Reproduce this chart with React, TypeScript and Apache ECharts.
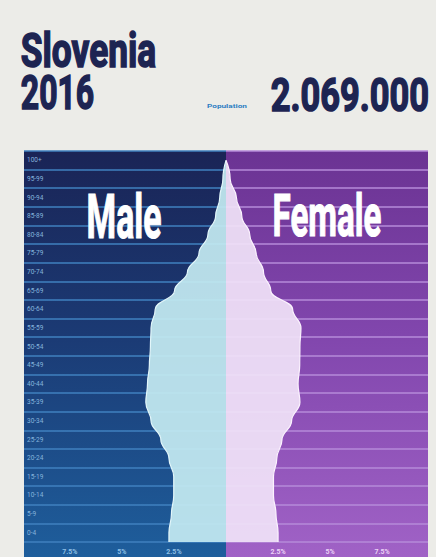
import React, { useEffect, useRef } from 'react';
import * as echarts from 'echarts';

// Age groups, youngest first (category axis draws first item at the bottom)
const ages = ['0-4', '5-9', '10-14', '15-19', '20-24', '25-29', '30-34', '35-39', '40-44', '45-49', '50-54', '55-59', '60-64', '65-69', '70-74', '75-79', '80-84', '85-89', '90-94', '95-99', '100+'];
// Share of total population (%)
const maleShare = [2.74, 2.62, 2.51, 2.51, 2.74, 3.13, 3.6, 3.85, 3.77, 3.68, 3.63, 3.6, 3.4, 2.47, 1.85, 1.3, 0.87, 0.5, 0.3, 0.15, 0];
const femaleShare = [2.5, 2.4, 2.28, 2.28, 2.44, 2.69, 3.15, 3.55, 3.46, 3.54, 3.55, 3.6, 3.2, 2.15, 1.8, 1.45, 1.14, 0.76, 0.5, 0.2, 0];
const xTickValues = [-7.5, -5, -2.5, 2.5, 5, 7.5];

const countryName = 'Slovenia';
const yearLabel = '2016';
const populationLabel = 'Population';
const populationValue = '2.069.000';
const maleLabel = 'Male';
const femaleLabel = 'Female';

const FONT = "'Liberation Sans Narrow', 'Roboto', 'Liberation Sans', sans-serif";

function measure(text: string, size: number, weight: string) {
  const c = document.createElement('canvas').getContext('2d');
  if (!c) return text.length * size * 0.5;
  c.font = `${weight} ${size}px ${FONT}`;
  return c.measureText(text).width;
}

function fittedText(text: string, left: number, midY: number, width: number, size: number, color: string, weight = 'bold', stroke = 0) {
  const w = measure(text, size, weight);
  const style: any = {
    text,
    fill: color,
    fontSize: size,
    fontFamily: FONT,
    fontWeight: weight,
    textAlign: 'left',
    align: 'left',
    textVerticalAlign: 'middle',
    verticalAlign: 'middle',
  };
  if (stroke > 0) {
    style.stroke = color;
    style.lineWidth = stroke;
  }
  return {
    type: 'text',
    x: left + stroke / 2,
    y: midY,
    scaleX: (width - stroke) / w,
    silent: true,
    z: 10,
    style,
  };
}

export default function App() {
  const ref = useRef<HTMLDivElement>(null);

  useEffect(() => {
    if (!ref.current) return;
    const chart = echarts.init(ref.current, null, { renderer: 'svg' });

    const gridLeft = 24;
    const gridRight = 8;
    const gridTop = 151;
    const gridBottom = 15;
    const W = 436;
    const H = 557;
    const plotW = W - gridLeft - gridRight;
    const center = gridLeft + plotW / 2;

    // fine hidden axis: half-row steps, boundaryGap false
    const fineCats = Array.from({ length: ages.length * 2 + 1 }, (_, i) => String(i));
    const toPoints = (vals: number[], sign: number) => {
      const pts: number[][] = [[sign * vals[0], 0]];
      vals.forEach((v, i) => pts.push([sign * v, 2 * i + 1]));
      return pts;
    };

    const lineGrad = new echarts.graphic.LinearGradient(gridLeft, 0, gridLeft + plotW, 0, [
      { offset: 0, color: '#3f80bf' },
      { offset: 0.5, color: '#3f80bf' },
      { offset: 0.5, color: '#b58ad9' },
      { offset: 1, color: '#b58ad9' },
    ], true);

    const option: any = {
      animation: false,
      backgroundColor: '#ececE8',
      grid: { left: gridLeft, right: gridRight, top: gridTop, bottom: gridBottom, containLabel: false, outerBoundsMode: 'none' },
      xAxis: {
        type: 'value',
        min: -9.7,
        max: 9.7,
        axisLine: { show: false },
        axisTick: { show: false },
        splitLine: { show: false },
        axisLabel: {
          customValues: xTickValues,
          margin: 6,
          fontSize: 7,
          fontWeight: 'bold',
          fontFamily: 'Roboto, sans-serif',
          color: (v: number) => (Number(v) < 0 ? '#8fc0e6' : '#ecd2f6'),
          formatter: (v: number) => Math.abs(v) + '%',
        },
      },
      yAxis: [
        {
          type: 'category',
          data: ages,
          boundaryGap: true,
          axisLine: { show: false },
          axisTick: { show: false },
          axisLabel: {
            inside: true,
            margin: 3,
            fontSize: 6.5,
            fontFamily: 'Roboto, sans-serif',
            color: '#86b4dc',
          },
          splitLine: { show: true, lineStyle: { color: lineGrad, width: 1.6 } },
        },
        {
          type: 'category',
          data: fineCats,
          boundaryGap: false,
          show: false,
        },
      ],
      series: [
        {
          name: 'Male',
          type: 'line',
          yAxisIndex: 1,
          data: toPoints(maleShare, -1),
          smooth: 0.45,
          smoothMonotone: 'y',
          symbol: 'none',
          lineStyle: { color: '#e2f6fa', width: 1.2 },
          areaStyle: { color: '#c3e9f1', opacity: 0.93 },
          z: 3,
        },
        {
          name: 'Female',
          type: 'line',
          yAxisIndex: 1,
          data: toPoints(femaleShare, 1),
          smooth: 0.45,
          smoothMonotone: 'y',
          symbol: 'none',
          lineStyle: { color: '#fbf2fe', width: 1.2 },
          areaStyle: { color: '#f0e2f7', opacity: 0.93 },
          z: 3,
        },
      ],
      graphic: [
        {
          type: 'rect',
          z: -10,
          silent: true,
          shape: { x: gridLeft, y: gridTop, width: plotW / 2, height: H - gridTop },
          style: {
            fill: new echarts.graphic.LinearGradient(0, 0, 0, 1, [
              { offset: 0, color: '#1a2456' },
              { offset: 0.45, color: '#1b3a74' },
              { offset: 1, color: '#1e5e9c' },
            ]),
          },
        },
        {
          type: 'rect',
          z: -10,
          silent: true,
          shape: { x: center, y: gridTop, width: plotW / 2, height: H - gridTop },
          style: {
            fill: new echarts.graphic.LinearGradient(0, 0, 0, 1, [
              { offset: 0, color: '#6b3393' },
              { offset: 0.45, color: '#8146ad' },
              { offset: 1, color: '#a062c6' },
            ]),
          },
        },
        fittedText(countryName, 20, 50, 137, 48, '#1d2452', 'bold', 1.6),
        fittedText(yearLabel, 20, 93, 75, 48, '#1d2452', 'bold', 1.6),
        fittedText(populationValue, 270, 95, 160, 47, '#1d2452', 'bold', 1.6),
        fittedText(populationLabel, 207, 106, 40, 6, '#2f7fc3', 'bold'),
        fittedText(maleLabel, 86, 217, 76, 62, '#ffffff', 'bold', 1.2),
        fittedText(femaleLabel, 272, 216, 110, 60, '#ffffff', 'bold', 1.2),
      ],
    };

    chart.setOption(option);
    return () => chart.dispose();
  }, []);

  return (
    <div
      ref={ref}
      style={{ position: 'fixed', left: 0, top: 0, width: 436, height: 557 }}
    />
  );
}
